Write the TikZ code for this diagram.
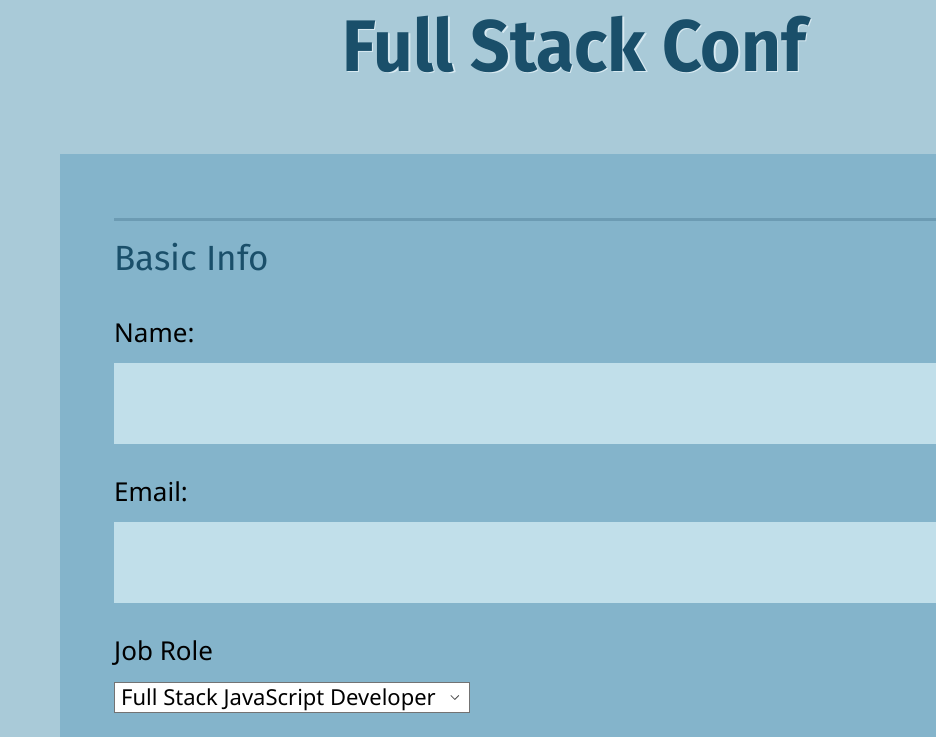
\documentclass[tikz,border=0pt]{standalone}
\usepackage{fontspec}
\setmainfont{Noto Sans}
\newfontfamily\headfont{Fira Sans}
\usetikzlibrary{positioning}
\definecolor{pagebg}{HTML}{A9CAD8}
\definecolor{panelbg}{HTML}{84B4CB}
\definecolor{fieldbg}{HTML}{C1DFEA}
\definecolor{rulecol}{HTML}{6C9BB3}
\definecolor{titlecol}{HTML}{1A4F6A}
\definecolor{shadowcol}{HTML}{D8EAF2}
\begin{document}
\begin{tikzpicture}
    [
    x=1pt,y=-1pt,
    title/.style={anchor=base west,inner sep=0pt,xscale=0.95,font=\headfont\bfseries\fontsize{73}{73}\selectfont},
    heading/.style={anchor=base west,inner sep=0pt,text=titlecol,font=\headfont\fontsize{35}{35}\selectfont},
    fieldlabel/.style={anchor=base west,inner sep=0pt,font=\fontsize{26}{26}\selectfont},
    inputbox/.style={anchor=north west,fill=fieldbg,inner sep=0pt,outer sep=0pt,minimum width=822pt,minimum height=81pt},
    selectbox/.style={anchor=north west,fill=white,draw=black!55,line width=0.8pt,inner sep=0pt,minimum width=355pt,minimum height=30pt}
    ]
    \useasboundingbox (0,0) rectangle (936,737);
    \fill [pagebg] (0,0) rectangle (936,737);
    \fill [panelbg] (60,154) rectangle (936,737);

    \node (shadow) at (343.5,72.5) [title,text=shadowcol] {Full Stack Conf};
    \node (conf) at (342,71) [title,text=titlecol] {Full Stack Conf};

    \coordinate (rulestart) at (114,219);
    \coordinate (ruleend) at (936,219);
    \draw [rulecol, line width=3pt] (rulestart) -- (ruleend);

    \node (basic) at (114,270) [heading] {Basic Info};

    \node (name) at (114,342) [fieldlabel] {Name:};
    \node (namebox) at (114,363) [inputbox] {};
    \node (email) at (114,501) [fieldlabel] {Email:};
    \node (emailbox) at (114,522) [inputbox] {};
    \node (job) at (114,660) [fieldlabel] {Job Role};

    \node (role) at (114,682) [selectbox] {};
    \node (roletext) at (121,705) [anchor=base west,inner sep=0pt,font=\fontsize{22}{22}\selectfont] {Full Stack JavaScript Developer};
    \draw [black!70, line width=0.8pt] (role.east) ++(-19,-2) -- ++(4,4) -- ++(4,-4);
\end{tikzpicture}
\end{document}
